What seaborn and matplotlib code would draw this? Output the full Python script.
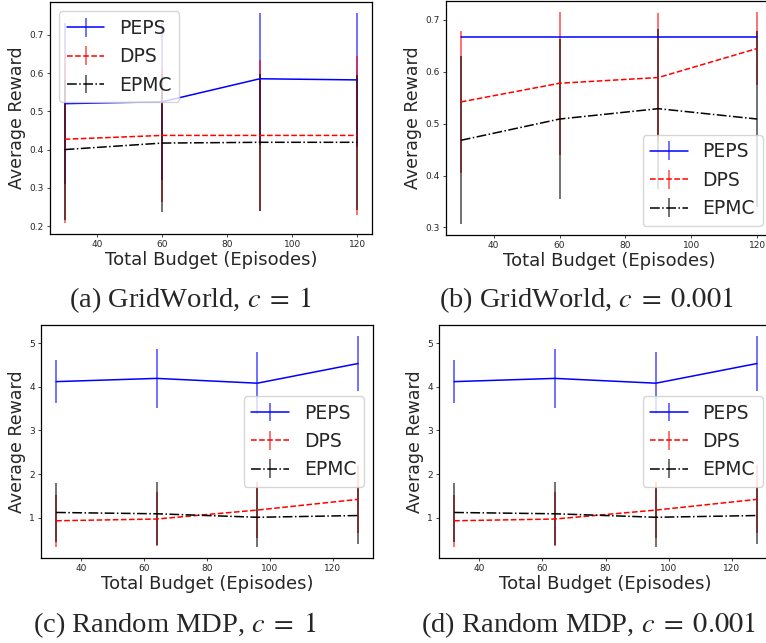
import matplotlib
matplotlib.use("Agg")
import matplotlib.pyplot as plt
import seaborn as sns
from matplotlib.colors import to_rgba

# ---------------- data ----------------
budget_gw = [30, 60, 90, 120]
budget_mdp = [32, 64, 96, 128]
series_names = ["PEPS", "DPS", "EPMC"]

gw_c1_peps = [0.520, 0.525, 0.585, 0.582]
gw_c1_peps_err = [0.210, 0.205, 0.172, 0.176]
gw_c1_dps = [0.427, 0.437, 0.437, 0.437]
gw_c1_dps_err = [0.220, 0.175, 0.197, 0.207]
gw_c1_epmc = [0.400, 0.417, 0.419, 0.419]
gw_c1_epmc_err = [0.183, 0.180, 0.179, 0.176]

gw_c001_peps = [0.667, 0.667, 0.667, 0.667]
gw_c001_peps_err = [0.0, 0.0, 0.0, 0.0]
gw_c001_dps = [0.542, 0.578, 0.589, 0.645]
gw_c001_dps_err = [0.137, 0.138, 0.124, 0.070]
gw_c001_epmc = [0.468, 0.509, 0.529, 0.509]
gw_c001_epmc_err = [0.162, 0.154, 0.154, 0.170]

mdp_peps = [4.116, 4.19, 4.08, 4.53]
mdp_peps_err = [0.50, 0.67, 0.71, 0.64]
mdp_dps = [0.93, 0.97, 1.175, 1.42]
mdp_dps_err = [0.60, 0.62, 0.64, 0.78]
mdp_epmc = [1.12, 1.09, 1.01, 1.05]
mdp_epmc_err = [0.68, 0.72, 0.69, 0.66]

captions = [r"(a) GridWorld, $c\;=\;1$", r"(b) GridWorld, $c\;=\;0.001$",
            r"(c) Random MDP, $c\;=\;1$", r"(d) Random MDP, $c\;=\;0.001$"]

# ---------------- style ----------------
sns.set_style("ticks")
plt.rcParams["font.family"] = ["DejaVu Sans"]
plt.rcParams["mathtext.fontset"] = "stix"

W, H = 766, 643
fig = plt.figure(figsize=(W / 100, H / 100), dpi=100)


def px_axes(left, top, right, bottom):
    return fig.add_axes([left / W, 1 - bottom / H, (right - left) / W, (bottom - top) / H])


colors = ["blue", "red", "black"]
styles = ["-", "--", "-."]


def draw(ax, x, ys, errs, legend_loc):
    for name, y, e, c, ls in zip(series_names, ys, errs, colors, styles):
        ax.errorbar(x, y, yerr=e, color=c, linestyle=ls, linewidth=1.1,
                    ecolor=to_rgba(c, 0.6), elinewidth=1.3, label=name)
    ax.set_xlabel("Total Budget (Episodes)", fontsize=13, labelpad=1)
    ax.set_ylabel("Average Reward", fontsize=12.5, labelpad=2.5)
    ax.tick_params(labelsize=6.5, length=2.5, width=0.6, pad=2)
    for s in ax.spines.values():
        s.set_linewidth(0.9)
        s.set_color("black")
    ax.legend(loc=legend_loc, fontsize=13.5)


ax_a = px_axes(50, 2, 372, 234)
draw(ax_a, budget_gw, [gw_c1_peps, gw_c1_dps, gw_c1_epmc],
     [gw_c1_peps_err, gw_c1_dps_err, gw_c1_epmc_err], "upper left")

ax_b = px_axes(446, 1, 772, 235)
draw(ax_b, budget_gw, [gw_c001_peps, gw_c001_dps, gw_c001_epmc],
     [gw_c001_peps_err, gw_c001_dps_err, gw_c001_epmc_err], "lower right")

ax_c = px_axes(41, 325, 373, 558)
draw(ax_c, budget_mdp, [mdp_peps, mdp_dps, mdp_epmc],
     [mdp_peps_err, mdp_dps_err, mdp_epmc_err], "center right")

ax_d = px_axes(439, 325, 772, 558)
draw(ax_d, budget_mdp, [mdp_peps, mdp_dps, mdp_epmc],
     [mdp_peps_err, mdp_dps_err, mdp_epmc_err], "center right")

cap_pos = [(191, 300), (586, 300), (175, 625), (588, 625)]
for (cx, cy), txt in zip(cap_pos, captions):
    fig.text(cx / W, 1 - cy / H, txt, ha="center", va="center",
             fontsize=20.5, family=["Liberation Serif", "DejaVu Serif"])

fig.savefig("out.png", dpi=100)
